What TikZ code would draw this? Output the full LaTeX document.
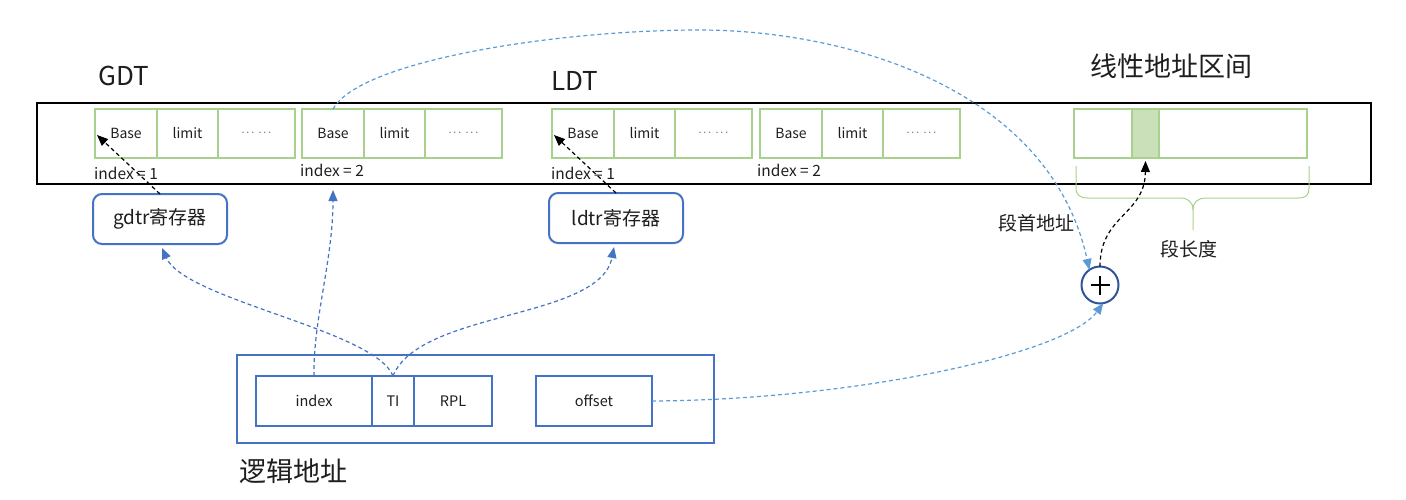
\documentclass[tikz,border=0pt]{standalone}
\usepackage{fontspec}
\setmainfont{Noto Sans CJK SC}
\usetikzlibrary{arrows.meta}
\definecolor{gline}{HTML}{A9D18E}
\definecolor{gfill}{HTML}{C9E0B9}
\definecolor{bline}{HTML}{4472C4}
\definecolor{lblue}{HTML}{5B9BD5}
\definecolor{pblue}{HTML}{2F5597}
\definecolor{txt}{HTML}{1E1E1E}
\newcommand\dotsgrp{{\fontsize{11}{12}\selectfont$\cdots\ \cdots$}}
\newcommand\tblentry[2]{%
  \node[cell,minimum width=62pt,anchor=west] (#1b) at (#2,133.5) {Base};
  \node[cell,minimum width=61pt,anchor=west] (#1l) at (#1b.east) {limit};
  \node[cell,minimum width=77pt,anchor=west] (#1d) at (#1l.east) {\dotsgrp};
}
\begin{document}
\begin{tikzpicture}[x=1pt,y=-1pt,
  every node/.style={text=txt},
  cell/.style={draw=gline,line width=2pt,minimum height=49pt,inner sep=0pt,outer sep=0pt,font=\fontsize{14}{16}\selectfont},
  bcell/.style={draw=bline,line width=2pt,minimum height=50pt,inner sep=0pt,outer sep=0pt,font=\fontsize{14.5}{16}\selectfont},
  reg/.style={draw=bline,line width=2pt,rounded corners=9pt,minimum width=134pt,minimum height=50pt,inner sep=0pt,outer sep=0pt,font=\fontsize{19}{22}\selectfont},
  small/.style={font=\fontsize{15.5}{17}\selectfont,inner sep=0pt,anchor=west},
  big/.style={font=\fontsize{26}{30}\selectfont,inner sep=0pt},
  mid/.style={font=\fontsize{19}{22}\selectfont,inner sep=0pt},
  dsh/.style={dash pattern=on 4pt off 3pt,line width=1.2pt},
  tipk/.style={-{Triangle[length=11pt,width=9pt]}},
  bkarrow/.style={dsh,tipk,draw=black},
  barrow/.style={dsh,tipk,draw=bline},
  larrow/.style={dsh,tipk,draw=lblue}]
\useasboundingbox (0,0) rectangle (1406,499);

% titles
\node[big] (gdtlabel) at (124,76) {GDT};
\node[big] (ldtlabel) at (575,81) {LDT};
\node[big,font=\fontsize{27}{30}\selectfont] (linlabel) at (1171,66) {线性地址区间};

% table frame
\node[draw,line width=2.5pt,minimum width=1334pt,minimum height=81pt,inner sep=0pt,outer sep=0pt] (tbl) at (704,143.5) {};

% entries
\tblentry{g1}{95}
\tblentry{g2}{302}
\tblentry{l1}{552}
\tblentry{l2}{760}

\node[small] (gi1) at (94,173) {index = 1};
\node[small] (gi2) at (300,170) {index = 2};
\node[small] (li1) at (551,173) {index = 1};
\node[small] (li2) at (757,170) {index = 2};

% linear address cells
\node[cell,minimum width=58pt] (lin1) at (1103,133.5) {};
\node[cell,minimum width=27pt,fill=gfill] (lin2) at (1145.5,133.5) {};
\node[cell,minimum width=148pt] (lin3) at (1233,133.5) {};

% brace
\draw[gline,line width=1pt] (1076,166) -- (1076,188) .. controls (1076,195) and (1080,198) .. (1088,198)
  -- (1180,198) .. controls (1188,198) and (1193,202) .. (1193,210) -- (1193,230);
\draw[gline,line width=1pt] (1193,210) .. controls (1193,202) and (1198,198) .. (1206,198)
  -- (1298,198) .. controls (1306,198) and (1309,195) .. (1309,188) -- (1309,166);
\node[mid] (seglen) at (1189,249) {段长度};
\node[mid] (segbase) at (1036,223) {段首地址};

% registers
\node[reg] (gdtr) at (160,219) {gdtr寄存器};
\node[reg] (ldtr) at (616,218) {ldtr寄存器};

% logical address
\node[draw=bline,line width=2pt,minimum width=477pt,minimum height=88pt,inner sep=0pt,outer sep=0pt] (logic) at (475.5,399) {};
\node[bcell,minimum width=116pt] (idx) at (314,401) {index};
\node[bcell,minimum width=42pt] (ti) at (393,401) {TI};
\node[bcell,minimum width=78pt] (rpl) at (453,401) {RPL};
\node[bcell,minimum width=116pt] (off) at (594,401) {offset};
\node[big,font=\fontsize{27}{30}\selectfont] (logiclabel) at (293,471) {逻辑地址};

% adder
\node[circle,draw=pblue,line width=2pt,minimum size=37pt,inner sep=0pt,outer sep=0pt] (plus) at (1100,285) {};
\draw[line width=1.6pt] ([xshift=-9.5pt]plus.center) -- ([xshift=9.5pt]plus.center)
  ([yshift=-9.5pt]plus.center) -- ([yshift=9.5pt]plus.center);

% connectors
\draw[bkarrow] (gdtr.north) -- ([xshift=2pt,yshift=-1.5pt]g1b.west);
\draw[bkarrow] (ldtr.north) -- ([xshift=2pt,yshift=-1.5pt]l1b.west);
\draw[barrow] (ti.north) .. controls (375,330) and (185,300) .. ([xshift=2pt,yshift=-4pt]gdtr.south);
\draw[barrow] (ti.north) .. controls (420,310) and (600,320) .. ([xshift=-2pt,yshift=-4pt]ldtr.south);
\path (g2b.south |- tbl.south) ++(0,6) coordinate (idxtip);
\draw[barrow] (idx.north) .. controls (313,320) and (333,260) .. (idxtip);
\draw[larrow] (g2b.north) .. controls (360,60) and (560,30) .. (699,30)
  .. controls (850,30) and (1050,90) .. (plus.125);
\draw[larrow] (off.east) .. controls (850,400) and (1065,355) .. (plus.-80);
\draw[bkarrow] (plus.north) .. controls (1100,215) and (1145,215) .. ([yshift=-3pt]lin2.south);
\end{tikzpicture}
\end{document}
